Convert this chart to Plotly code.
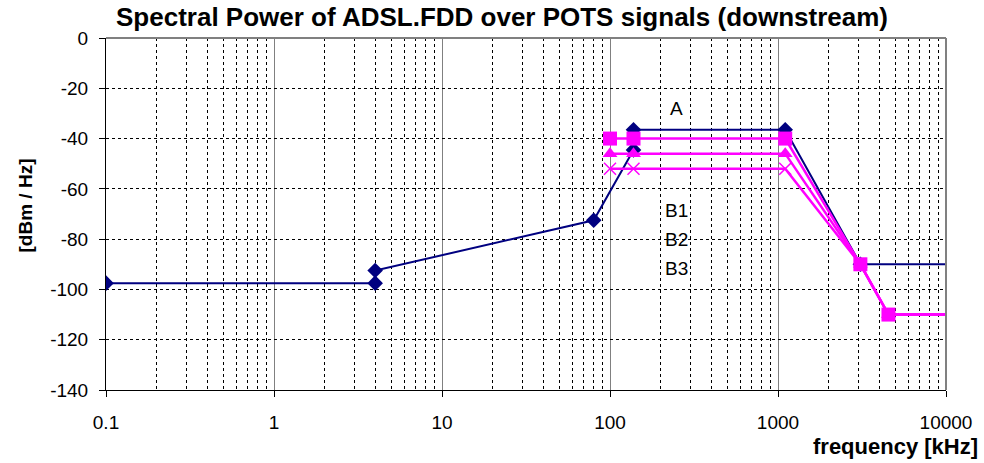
import plotly.graph_objects as go

# Frequency breakpoints [kHz] and PSD levels [dBm/Hz]
freq_a = [0.1, 4, 4, 80, 138, 138, 1104, 3093, 11040]
psd_a = [-97.5, -97.5, -92.5, -72.5, -44.5, -36.5, -36.5, -90, -90]

freq_b = [100, 138, 1104, 3093, 4545, 11040]
psd_b1 = [-40, -40, -40, -90, -110, -110]
psd_b2 = [-46, -46, -46, -90, -110, -110]
psd_b3 = [-52, -52, -52, -90, -110, -110]

x_ticks = [0.1, 1, 10, 100, 1000, 10000]
x_labels = ["0.1", "1", "10", "100", "1000", "10000"]
y_ticks = [0, -20, -40, -60, -80, -100, -120, -140]
y_labels = ["0", "-20", "-40", "-60", "-80", "-100", "-120", "-140"]

NAVY = "#000080"
PINK = "#FF00FF"
FONT = "Liberation Sans, Arial, sans-serif"

W, H = 984, 463
ML, MR, MT, MB = 106, 33, 38, 73
PW, PH = W - ML - MR, H - MT - MB


def px(x):
    return (x - ML) / PW


def py(y):
    return (H - MB - y) / PH


minor_vals = [m * 10.0 ** e for e in range(-1, 4) for m in range(2, 10)]

fig = go.Figure()
fig.add_trace(go.Scatter(
    x=freq_a, y=psd_a, mode="lines+markers", name="A",
    line=dict(color=NAVY, width=2),
    marker=dict(symbol="diamond", size=12, color=NAVY),
))
fig.add_trace(go.Scatter(
    x=freq_b, y=psd_b3, mode="lines+markers", name="B3",
    line=dict(color=PINK, width=2.5),
    marker=dict(symbol="x-thin", size=12, color=PINK, line=dict(color=PINK, width=1.5)),
))
fig.add_trace(go.Scatter(
    x=freq_b, y=psd_b2, mode="lines+markers", name="B2",
    line=dict(color=PINK, width=2.5),
    marker=dict(symbol="triangle-up", size=13, color=PINK),
))
fig.add_trace(go.Scatter(
    x=freq_b, y=psd_b1, mode="lines+markers", name="B1",
    line=dict(color=PINK, width=2.5),
    marker=dict(symbol="square", size=14, color=PINK),
))

fig.update_xaxes(
    type="log", range=[-1, 4],
    tickvals=x_ticks, ticktext=x_labels,
    ticks="outside", ticklen=6, tickcolor="black", tickwidth=1,
    ticklabelstandoff=9,
    showline=True, linecolor="black", linewidth=1,
    showgrid=True, gridcolor="#808080", gridwidth=1,
    minor=dict(tickvals=minor_vals, showgrid=True, gridcolor="black",
               griddash="3px,3px", gridwidth=1, ticks=""),
    tickfont=dict(family=FONT, size=19, color="black"),
    zeroline=False,
)
fig.update_yaxes(
    range=[-140, 0],
    tickvals=y_ticks, ticktext=y_labels,
    ticks="outside", ticklen=6, tickcolor="black", tickwidth=1,
    ticklabelstandoff=7,
    showline=True, linecolor="black", linewidth=1,
    showgrid=True, gridcolor="black", griddash="3px,3px", gridwidth=1,
    tickfont=dict(family=FONT, size=19, color="black"),
    zeroline=False,
)

# grey frame on top and right of the plot area
fig.add_shape(type="line", xref="paper", yref="paper", x0=0, x1=1, y0=1, y1=1,
              line=dict(color="#808080", width=2))
fig.add_shape(type="line", xref="paper", yref="paper", x0=1, x1=1, y0=0, y1=1,
              line=dict(color="#808080", width=2))

fig.add_annotation(text="<b>Spectral Power of ADSL.FDD over POTS signals (downstream)</b>",
                   xref="paper", yref="paper", x=px(504), y=py(17),
                   xanchor="center", yanchor="middle", showarrow=False,
                   font=dict(family=FONT, size=26, color="black"))
fig.add_annotation(text="<b>[dBm / Hz]</b>", textangle=-90,
                   xref="paper", yref="paper", x=px(25), y=py(205),
                   xanchor="center", yanchor="middle", showarrow=False,
                   font=dict(family=FONT, size=19, color="black"))
fig.add_annotation(text="<b>frequency [kHz]</b>",
                   xref="paper", yref="paper", x=px(985), y=py(446),
                   xanchor="right", yanchor="middle", showarrow=False,
                   font=dict(family=FONT, size=22, color="black"))

for label, ypix in [("A", 108), ("B1", 210), ("B2", 239), ("B3", 268)]:
    fig.add_annotation(text=label, xref="paper", yref="paper",
                       x=px(680), y=py(ypix), xanchor="center", yanchor="middle",
                       showarrow=False, font=dict(family=FONT, size=19, color="black"))

fig.update_layout(
    width=W, height=H,
    margin=dict(l=ML, r=MR, t=MT, b=MB),
    paper_bgcolor="white", plot_bgcolor="white",
    showlegend=False,
    font=dict(family=FONT, color="black"),
)

fig.write_html("out.html")
